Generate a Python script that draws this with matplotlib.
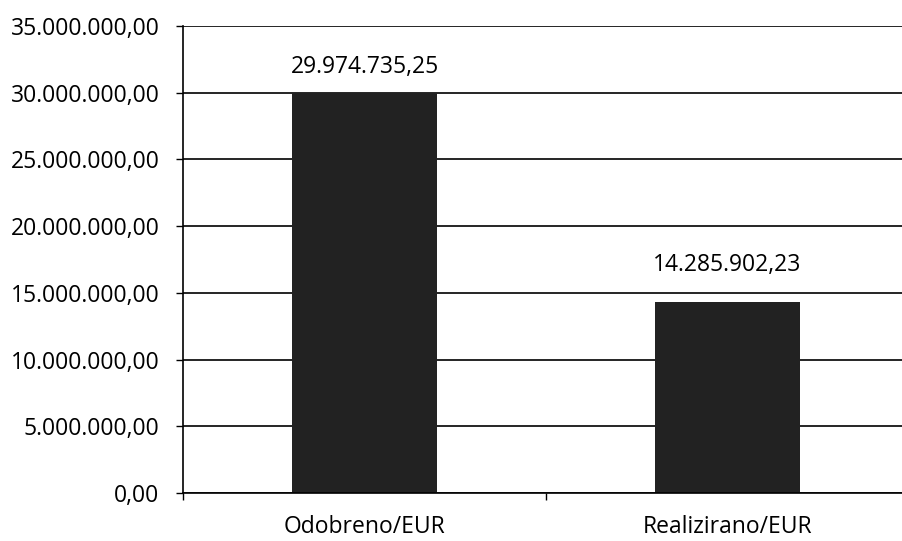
import matplotlib.pyplot as plt
from matplotlib.ticker import FuncFormatter

categories = ["Odobreno/EUR", "Realizirano/EUR"]
values = [29974735.25, 14285902.23]
y_ticks = [0, 5e6, 10e6, 15e6, 20e6, 25e6, 30e6, 35e6]

# label gap above each bar, in points (the original is not consistent)
label_gap = [10, 18]


def hr_format(v, pos=None):
    # 29974735.25 -> 29.974.735,25
    s = f"{v:,.2f}"
    return s.replace(",", "X").replace(".", ",").replace("X", ".")


plt.rcParams["font.family"] = ["Open Sans", "DejaVu Sans"]

fig = plt.figure(figsize=(9.02, 5.41), dpi=100)
ax = fig.add_axes([183 / 902, 48 / 541, 726 / 902, 467 / 541])

x = range(len(categories))
ax.bar(x, values, width=0.40, color="#222222", zorder=3)

for xi, v, gap in zip(x, values, label_gap):
    ax.annotate(
        hr_format(v),
        (xi, v),
        xytext=(0, gap),
        textcoords="offset points",
        ha="center",
        va="bottom",
        fontsize=16.5,
    )

ax.set_xlim(-0.5, len(categories) - 0.5)
ax.set_ylim(0, 35e6)
ax.set_yticks(y_ticks)
ax.yaxis.set_major_formatter(FuncFormatter(hr_format))
ax.grid(axis="y", color="black", linewidth=1.2, zorder=0)

ax.set_xticks([-0.5, 0.5, 1.5])
ax.set_xticklabels([])
ax.set_xticks(list(x), minor=True)
ax.set_xticklabels(categories, minor=True)
ax.tick_params(axis="x", which="minor", length=0, pad=16, labelsize=16.5)
ax.tick_params(axis="x", which="major", length=5, width=1, direction="out")
ax.tick_params(axis="y", length=5, width=1, direction="out", pad=12, labelsize=16.5)

for side in ["top", "right"]:
    ax.spines[side].set_visible(False)
for side in ["left", "bottom"]:
    ax.spines[side].set_linewidth(1.2)
    ax.spines[side].set_zorder(4)

plt.savefig("out.png", dpi=100)
